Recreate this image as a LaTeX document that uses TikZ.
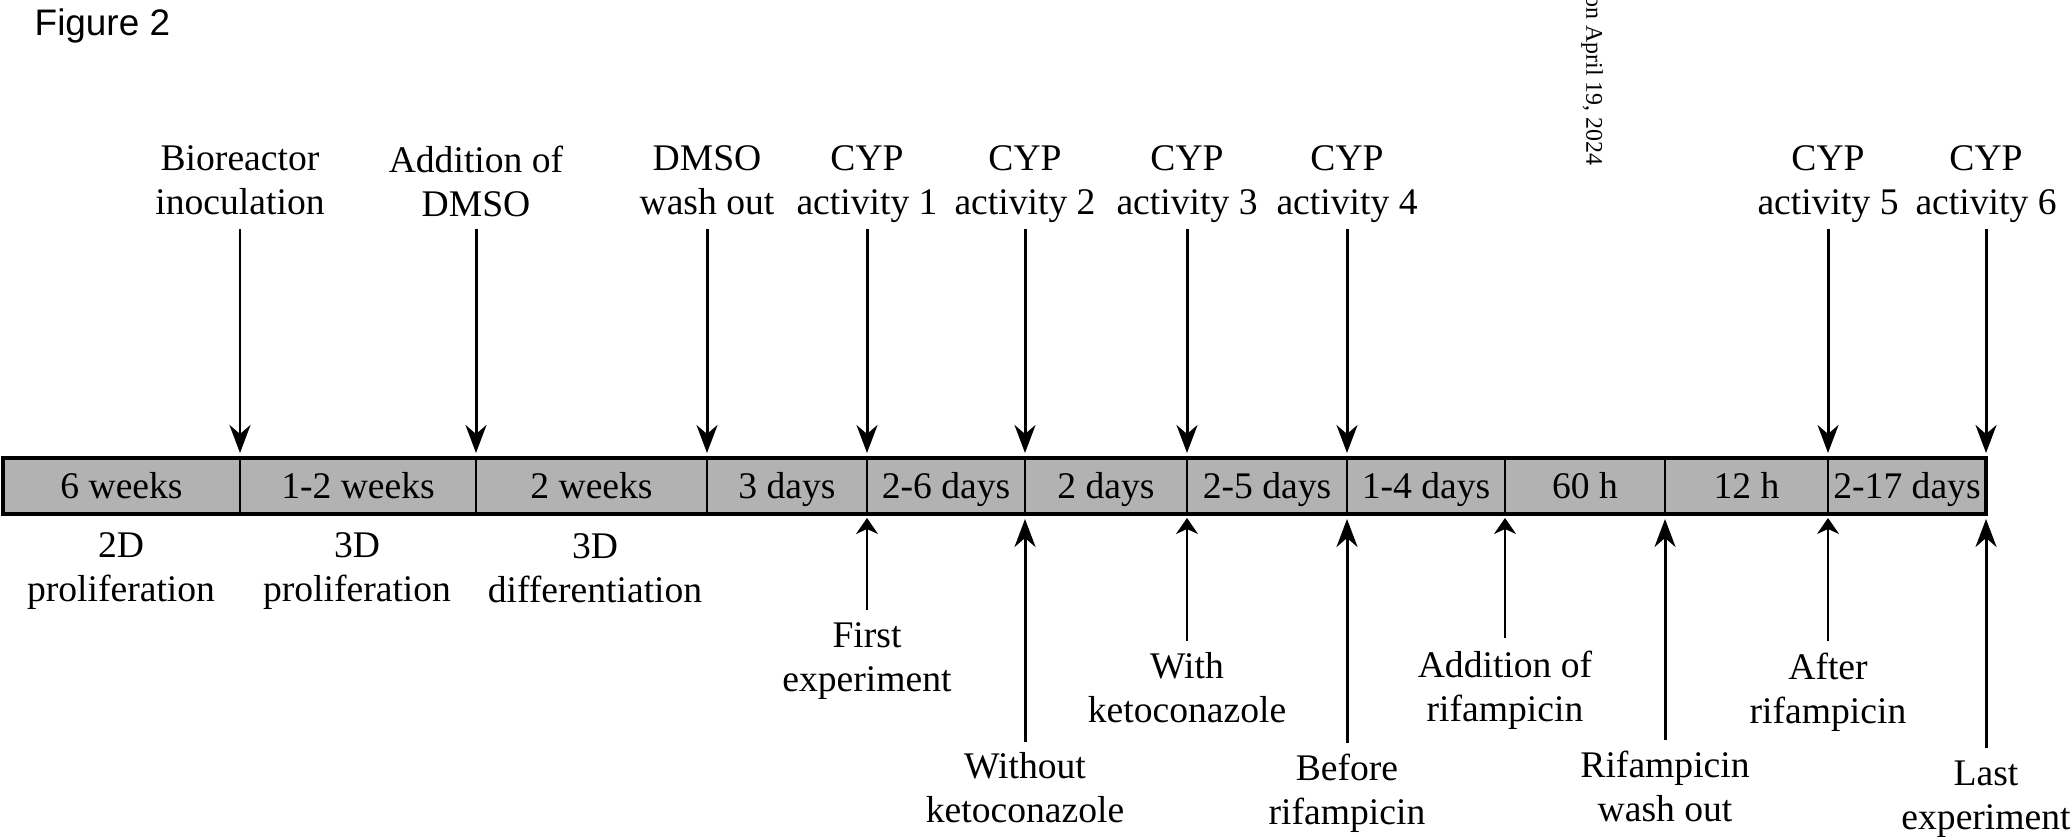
\documentclass[tikz,border=0pt]{standalone}
\usepackage{fontspec}
\setmainfont{Liberation Serif}
\newfontfamily\figfont{Liberation Sans}
\usetikzlibrary{arrows.meta}
\def\lblfont{\fontsize{10.7}{12.5}\selectfont}

\begin{document}
\begin{tikzpicture}[x=0.1mm, y=-0.1mm]
\tikzset{
  segbox/.style={draw, line width=0.55pt, fill=black!30, minimum height=5.6mm, inner sep=0pt, outer sep=0pt, font=\lblfont, text height=7.3pt, text depth=0pt},
  lbl/.style={align=center, font=\lblfont, inner sep=0pt, anchor=north},
  bigarrow/.style={-{Stealth[length=2.8mm, width=2.1mm, inset=0.9mm]}, line width=0.85pt, shorten >=0.5mm},
  smallarrow/.style={-{Stealth[length=1.6mm, width=2.2mm, inset=0.5mm]}, line width=0.55pt, shorten >=0.4mm}
}
\useasboundingbox (0,0) rectangle (2072,840);

\node[anchor=north west, inner sep=0pt, font=\figfont\fontsize{10.5}{12}\selectfont] (fig) at (34,8) {Figure 2};
\node[rotate=-90, anchor=east, inner sep=0pt, font=\fontsize{6.8}{8}\selectfont] (stamp) at (1592,166) {on April 19, 2024};

% time bar
\node[segbox, minimum width=23.7mm] (s1) at (121.5,486) {6 weeks};
\node[segbox, minimum width=23.6mm] (s2) at (358,486) {1-2 weeks};
\node[segbox, minimum width=23.1mm] (s3) at (591.5,486) {2 weeks};
\node[segbox, minimum width=16.0mm] (s4) at (787,486) {3 days};
\node[segbox, minimum width=15.8mm] (s5) at (946,486) {2-6 days};
\node[segbox, minimum width=16.2mm] (s6) at (1106,486) {2 days};
\node[segbox, minimum width=16.0mm] (s7) at (1267,486) {2-5 days};
\node[segbox, minimum width=15.8mm] (s8) at (1426,486) {1-4 days};
\node[segbox, minimum width=16.0mm] (s9) at (1585,486) {60 h};
\node[segbox, minimum width=16.3mm] (s10) at (1746.5,486) {12 h};
\node[segbox, minimum width=15.8mm] (s11) at (1907,486) {2-17 days};
\draw[line width=0.9pt] (s1.north west) rectangle (s11.south east);

% phases under the bar
\node[lbl] (prol2d) at (121,532) {2D\\proliferation};
\node[lbl] (prol3d) at (357,532) {3D\\proliferation};
\node[lbl] (diff3d) at (595,533) {3D\\differentiation};

% events above the bar
\coordinate (tailtop) at (0,229);
\node[lbl] (inoc) at (240,145) {Bioreactor\\inoculation};
\node[lbl] (adddmso) at (476,145) {Addition of\\DMSO};
\node[lbl] (washdmso) at (707,145) {DMSO\\wash out};
\node[lbl] (cyp1) at (867,145) {CYP\\activity 1};
\node[lbl] (cyp2) at (1025,145) {CYP\\activity 2};
\node[lbl] (cyp3) at (1187,145) {CYP\\activity 3};
\node[lbl] (cyp4) at (1347,145) {CYP\\activity 4};
\node[lbl] (cyp5) at (1828,145) {CYP\\activity 5};
\node[lbl] (cyp6) at (1986,145) {CYP\\activity 6};

\draw[bigarrow] (inoc |- tailtop) -- (inoc |- s2.north);
\draw[bigarrow] (adddmso |- tailtop) -- (adddmso |- s3.north);
\draw[bigarrow] (washdmso |- tailtop) -- (washdmso |- s4.north);
\draw[bigarrow] (cyp1 |- tailtop) -- (cyp1 |- s5.north);
\draw[bigarrow] (cyp2 |- tailtop) -- (cyp2 |- s6.north);
\draw[bigarrow] (cyp3 |- tailtop) -- (cyp3 |- s7.north);
\draw[bigarrow] (cyp4 |- tailtop) -- (cyp4 |- s8.north);
\draw[bigarrow] (cyp5 |- tailtop) -- (cyp5 |- s11.north);
\draw[bigarrow] (cyp6 |- tailtop) -- (cyp6 |- s11.north);

% events below the bar
\node[lbl] (first) at (867,622) {First\\experiment};
\node[lbl] (noketo) at (1025,752) {Without\\ketoconazole};
\node[lbl] (keto) at (1187,652) {With\\ketoconazole};
\node[lbl] (beforerif) at (1347,753) {Before\\rifampicin};
\node[lbl] (addrif) at (1505,650) {Addition of\\rifampicin};
\node[lbl] (washrif) at (1665,750) {Rifampicin\\wash out};
\node[lbl] (afterrif) at (1828,652) {After\\rifampicin};
\node[lbl] (last) at (1986,760) {Last\\experiment};

\draw[smallarrow] ([yshift=1.2mm]first.north) -- (first |- s5.south);
\draw[bigarrow] ([yshift=1mm]noketo.north) -- (noketo |- s6.south);
\draw[smallarrow] ([yshift=1.1mm]keto.north) -- (keto |- s7.south);
\draw[bigarrow] ([yshift=1mm]beforerif.north) -- (beforerif |- s8.south);
\draw[smallarrow] ([yshift=1.2mm]addrif.north) -- (addrif |- s9.south);
\draw[bigarrow] ([yshift=1mm]washrif.north) -- (washrif |- s10.south);
\draw[smallarrow] ([yshift=1.1mm]afterrif.north) -- (afterrif |- s11.south);
\draw[bigarrow] ([yshift=1.2mm]last.north) -- (last |- s11.south);
\end{tikzpicture}
\end{document}
